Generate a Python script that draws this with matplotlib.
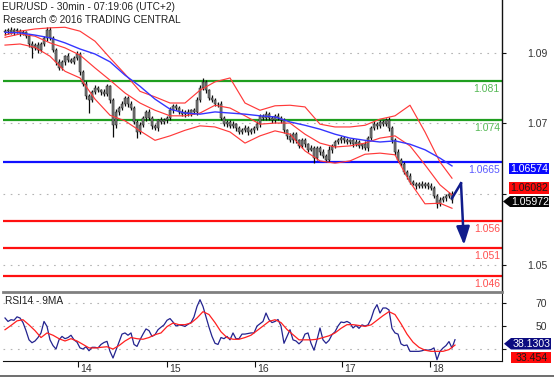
import numpy as np
import matplotlib
matplotlib.use("Agg")
import matplotlib.pyplot as plt
import matplotlib.transforms as mtransforms
from matplotlib.patches import Polygon, FancyArrowPatch

plt.rcParams['font.family'] = ['Liberation Sans', 'DejaVu Sans']

W, H = 554, 377

# ---------------- data ----------------
first_open = 1.0898
close = [
    1.0900, 1.0902, 1.0898, 1.0902, 1.0900, 1.0897, 1.0898, 1.0891, 1.0877, 1.0870,
    1.0875, 1.0866, 1.0877, 1.0888, 1.0902, 1.0888, 1.0866, 1.0845, 1.0834, 1.0845,
    1.0855, 1.0848, 1.0845, 1.0852, 1.0859, 1.0827, 1.0805, 1.0783, 1.0776, 1.0791,
    1.0798, 1.0794, 1.0791, 1.0787, 1.0801, 1.0776, 1.0731, 1.0755, 1.0762, 1.0769,
    1.0780, 1.0769, 1.0762, 1.0737, 1.0719, 1.0731, 1.0744, 1.0755, 1.0744, 1.0730,
    1.0726, 1.0740, 1.0737, 1.0740, 1.0744, 1.0758, 1.0766, 1.0762, 1.0755, 1.0751,
    1.0755, 1.0751, 1.0758, 1.0755, 1.0776, 1.0798, 1.0809, 1.0794, 1.0780, 1.0776,
    1.0769, 1.0769, 1.0744, 1.0733, 1.0737, 1.0730, 1.0733, 1.0726, 1.0719, 1.0722,
    1.0726, 1.0719, 1.0722, 1.0726, 1.0733, 1.0748, 1.0744, 1.0751, 1.0744, 1.0740,
    1.0748, 1.0744, 1.0740, 1.0722, 1.0712, 1.0704, 1.0715, 1.0704, 1.0694, 1.0704,
    1.0697, 1.0687, 1.0690, 1.0672, 1.0690, 1.0683, 1.0676, 1.0669, 1.0687, 1.0694,
    1.0701, 1.0704, 1.0708, 1.0704, 1.0701, 1.0704, 1.0697, 1.0701, 1.0694, 1.0697,
    1.0690, 1.0708, 1.0726, 1.0733, 1.0730, 1.0737, 1.0733, 1.0740, 1.0726, 1.0704,
    1.0683, 1.0669, 1.0661, 1.0647, 1.0640, 1.0629, 1.0626, 1.0622, 1.0626, 1.0622,
    1.0626, 1.0622, 1.0618, 1.0604, 1.0590, 1.0597, 1.0600, 1.0604, 1.0608, 1.0597,
]
upper_wick_pips = [
    4, 3, 5, 3, 4, 4, 5, 3, 4, 5,
    4, 5, 4, 3, 5, 6, 4, 3, 5, 4,
    3, 5, 4, 4, 6, 3, 4, 5, 4, 3,
    5, 4, 3, 5, 4, 3, 4, 6, 4, 5,
    3, 4, 5, 3, 4, 6, 4, 3, 5, 4,
    4, 3, 5, 4, 3, 5, 4, 4, 3, 5,
    4, 5, 3, 4, 6, 5, 7, 4, 3, 5,
    4, 3, 5, 4, 3, 4, 5, 3, 4, 4,
    5, 3, 4, 4, 5, 3, 4, 5, 4, 3,
    4, 5, 3, 4, 3, 5, 4, 4, 3, 5,
    4, 3, 5, 4, 3, 4, 5, 3, 6, 4,
    3, 5, 4, 4, 5, 3, 4, 5, 4, 3,
    5, 4, 3, 5, 4, 3, 4, 4, 5, 3,
    4, 5, 3, 4, 3, 5, 4, 3, 4, 5,
    3, 4, 5, 4, 3, 5, 4, 3, 4, 5,
]
lower_wick_pips = [
    4, 5, 3, 4, 4, 5, 3, 4, 5, 18,
    4, 5, 4, 3, 5, 4, 4, 5, 3, 4,
    5, 4, 3, 4, 4, 5, 4, 5, 23, 4,
    4, 3, 5, 4, 3, 5, 21, 4, 5, 3,
    4, 5, 3, 4, 11, 4, 3, 5, 4, 5,
    4, 5, 3, 4, 4, 3, 5, 4, 3, 4,
    5, 4, 3, 4, 5, 3, 4, 5, 4, 3,
    4, 5, 4, 3, 5, 4, 3, 5, 4, 4,
    3, 5, 4, 4, 3, 5, 4, 3, 4, 5,
    4, 3, 5, 4, 5, 3, 4, 5, 4, 3,
    5, 4, 3, 9, 4, 5, 3, 4, 4, 5,
    4, 3, 4, 5, 3, 4, 5, 4, 3, 5,
    4, 5, 3, 4, 5, 3, 4, 4, 5, 4,
    5, 4, 3, 4, 5, 4, 3, 5, 4, 3,
    4, 5, 3, 4, 8, 4, 3, 5, 4, 5,
]

# Bollinger bands and moving average, read every 5 bars
band_idx = list(range(0, 150, 5)) + [149]
bb_upper = [1.0893, 1.0900, 1.0904, 1.0906, 1.0907, 1.0900, 1.0882, 1.0852, 1.0823, 1.0792,
            1.0782, 1.0771, 1.0771, 1.0794, 1.0809, 1.0816, 1.0771, 1.0758, 1.0766, 1.0767,
            1.0764, 1.0733, 1.0728, 1.0728, 1.0731, 1.0742, 1.0748, 1.0767, 1.0719, 1.0665,
            1.0636]
bb_mid = [1.0889, 1.0895, 1.0891, 1.0879, 1.0870, 1.0857, 1.0834, 1.0812, 1.0789, 1.0771,
          1.0758, 1.0748, 1.0748, 1.0753, 1.0767, 1.0762, 1.0748, 1.0733, 1.0735, 1.0735,
          1.0715, 1.0699, 1.0692, 1.0694, 1.0699, 1.0708, 1.0712, 1.0694, 1.0660, 1.0624,
          1.0606]
bb_lower = [1.0875, 1.0877, 1.0871, 1.0855, 1.0828, 1.0816, 1.0778, 1.0749, 1.0739, 1.0721,
            1.0704, 1.0712, 1.0722, 1.0730, 1.0728, 1.0719, 1.0699, 1.0712, 1.0721, 1.0715,
            1.0685, 1.0667, 1.0663, 1.0667, 1.0679, 1.0681, 1.0678, 1.0629, 1.0590, 1.0591,
            1.0582]
ma_blue = [1.0898, 1.0897, 1.0893, 1.0888, 1.0879, 1.0868, 1.0859, 1.0845, 1.0821, 1.0801,
           1.0778, 1.0760, 1.0753, 1.0751, 1.0755, 1.0753, 1.0751, 1.0748, 1.0746, 1.0737,
           1.0731, 1.0724, 1.0715, 1.0708, 1.0704, 1.0701, 1.0703, 1.0697, 1.0687, 1.0672,
           1.0658]

levels_green = [1.081, 1.074]
level_blue = 1.0665
levels_red = [1.056, 1.051, 1.046]
level_labels = {1.081: "1.081", 1.074: "1.074", 1.0665: "1.0665",
                1.056: "1.056", 1.051: "1.051", 1.046: "1.046"}

forecast_idx = [149, 152, 153]
forecast_px = [1.0600, 1.0627, 1.0516]

rsi = [57, 54, 55.5, 55, 58, 57, 53, 46, 38, 35.5,
       37, 40, 44, 54, 49.7, 38, 33, 30, 38, 41,
       39, 40, 42, 38, 36, 31, 30, 32, 28.5, 31.5,
       31.5, 30.9, 34, 35.7, 36.7, 28, 22.2, 29, 36, 43,
       44, 42, 44, 34, 32.3, 38, 43, 47.5, 46, 41,
       42.5, 46.8, 49, 51, 55, 56.5, 53.5, 50, 51, 50.5,
       49.7, 51.5, 53, 58, 67, 72.9, 67, 58, 49, 41,
       35, 34, 40, 39, 41, 38, 44, 39, 39, 43,
       43, 43.5, 44, 44, 50, 52, 54, 61.3, 55.5, 53,
       54, 55.7, 50, 35, 41, 46.8, 38, 37, 34.5, 37,
       43, 44, 35, 29, 38, 48.3, 38, 35, 37.5, 42.5,
       45, 50, 53.5, 53, 54, 52.6, 48.3, 50.5, 48, 51,
       50, 51, 56, 64, 68.6, 61.3, 65.7, 65.7, 64, 48,
       44, 43, 34.5, 33, 33.5, 28, 28, 28, 28, 28.5,
       29.4, 29, 29.5, 31, 20.7, 28, 30.9, 33, 36.5, 30.9,
       38.1303]
rsi_ma_idx = list(range(0, 151, 2))
rsi_ma = [46.8, 50.5, 54.5, 55.5, 51, 46, 40, 44, 42, 39,
          37, 39, 37, 34, 31, 30.9, 31.5, 32, 30, 33,
          37, 40, 39, 38.5, 40, 42.5, 44, 49.5, 52.6, 51.2,
          51.2, 52.6, 57, 62.5, 60, 53, 45, 40, 38.5, 38.5,
          40, 42, 46, 50, 54, 55.5, 53, 47, 42.5, 38,
          38, 38, 38.5, 40, 41.5, 44, 48, 51.2, 51.2, 50.5,
          49.7, 51, 55, 59, 62.5, 60, 52, 43, 36, 31.5,
          29, 28, 28, 28, 29.5, 33.454]

day_labels = ["14", "15", "16", "17", "18"]
day_pos = [24.3, 54.0, 83.3, 112.3, 141.7]

price_ticks = [1.0861, 1.0735, 1.0608, 1.0480]
price_tick_labels = ["1.09", "1.07", "", "1.05"]
rsi_ticks = [70, 50, 30]
rsi_tick_labels = ["70", "50", ""]

tag_ma, tag_bb, tag_last = "1.06574", "1.06082", "1.05972"
tag_rsi, tag_rsi_ma = "38.1303", "33.454"

# ---------------- figure ----------------
fig = plt.figure(figsize=(W / 100, H / 100), dpi=100)


def px_rect(l, t, r, b):
    return [l / W, 1 - b / H, (r - l) / W, (b - t) / H]


ax = fig.add_axes(px_rect(3, 0, 502, 291))
axr = fig.add_axes(px_rect(3, 292, 502, 361))

xlim = (-0.67, 165.67)
grid_kw = dict(color="#b4b4b4", linestyle=(0, (1.5, 5)), linewidth=0.8)

# ----- main price panel -----
n = len(close)
xs = np.arange(n)
opens = np.array([first_open] + close[:-1])
closes = np.array(close)
highs = np.maximum(opens, closes) + np.array(upper_wick_pips) * 0.0001
lows = np.minimum(opens, closes) - np.array(lower_wick_pips) * 0.0001

for y in price_ticks:
    ax.axhline(y, zorder=0, **grid_kw)

ax.vlines(xs, lows, highs, color="#0a0a0a", linewidth=0.9, zorder=3)
ax.bar(xs, closes - opens, bottom=opens, width=0.85, color="#7c7c7c",
       edgecolor="#1a1a1a", linewidth=0.35, zorder=4)

for lv in levels_green:
    ax.axhline(lv, color="#1f9e1f", linewidth=1.6, zorder=2)
ax.axhline(level_blue, color="#1010ff", linewidth=1.6, zorder=2)
for lv in levels_red:
    ax.axhline(lv, color="#ff1010", linewidth=1.6, zorder=2)

ax.plot(band_idx, bb_upper, color="#ff3a3a", linewidth=0.85, zorder=5)
ax.plot(band_idx, bb_mid, color="#ff3a3a", linewidth=0.85, zorder=5)
ax.plot(band_idx, bb_lower, color="#ff3a3a", linewidth=0.85, zorder=5)
ax.plot(band_idx, ma_blue, color="#3535ff", linewidth=1.0, zorder=5)

label_colors = {1.081: "#55b855", 1.074: "#55b855", 1.0665: "#5a5aff",
                1.056: "#ff4f4f", 1.051: "#ff4f4f", 1.046: "#ff4f4f"}
for lv, txt in level_labels.items():
    ax.annotate(txt, xy=(1, lv), xycoords=("axes fraction", "data"),
                xytext=(-1.5, -2.2), textcoords="offset points",
                ha="right", va="top", fontsize=7.5, color=label_colors[lv])

navy = "#101c8c"
ax.plot(forecast_idx[:2], forecast_px[:2], color=navy, linewidth=1.8, zorder=6)
ax.add_patch(FancyArrowPatch((forecast_idx[1], forecast_px[1]),
                             (forecast_idx[2], forecast_px[2]),
                             arrowstyle="-|>,head_length=1.1,head_width=0.4",
                             mutation_scale=10, color=navy, linewidth=1.8,
                             shrinkA=0, shrinkB=0, zorder=6))

ax.set_xlim(*xlim)
ax.set_ylim(1.04334, 1.0956)
for s in ("left", "top", "bottom"):
    ax.spines[s].set_visible(False)
ax.spines["right"].set_color("#111111")
ax.spines["right"].set_linewidth(1.0)
ax.yaxis.tick_right()
ax.set_yticks(price_ticks)
ax.set_yticklabels(price_tick_labels)
ax.tick_params(axis="y", direction="out", length=3, width=0.8, pad=29.5,
               labelsize=7.5, labelcolor="#333333", color="#111111")
for lbl in ax.get_yticklabels():
    lbl.set_horizontalalignment("right")
ax.tick_params(axis="x", bottom=False, labelbottom=False)

# ----- RSI panel -----
for y in rsi_ticks:
    axr.axhline(y, zorder=0, **grid_kw)
axr.plot(np.arange(len(rsi)), rsi, color="#23238f", linewidth=0.9, zorder=3)
axr.plot(rsi_ma_idx, rsi_ma, color="#ff2020", linewidth=0.9, zorder=4)
axr.set_xlim(*xlim)
axr.set_ylim(19.6, 79.6)
axr.spines["left"].set_visible(False)
axr.spines["top"].set_color("#808080")
axr.spines["top"].set_linewidth(2.0)
axr.spines["bottom"].set_color("#111111")
axr.spines["right"].set_color("#111111")
axr.yaxis.tick_right()
axr.set_yticks(rsi_ticks)
axr.set_yticklabels(rsi_tick_labels)
axr.tick_params(axis="y", direction="out", length=3, width=0.8, pad=29.5,
                labelsize=7.5, labelcolor="#333333", color="#111111")
for lbl in axr.get_yticklabels():
    lbl.set_horizontalalignment("right")
axr.set_xticks(day_pos)
axr.set_xticklabels(day_labels)
axr.tick_params(axis="x", direction="out", length=4, width=0.8, pad=-1.5,
                labelsize=7.5, labelcolor="#333333", color="#111111")
off = mtransforms.ScaledTranslation(2.5 / 100, 0, fig.dpi_scale_trans)
for lbl in axr.get_xticklabels():
    lbl.set_horizontalalignment("left")
    lbl.set_transform(lbl.get_transform() + off)

# ----- texts -----
fig.text(2 / W, 1 - 7.5 / H, "EUR/USD - 30min - 07:19:06 (UTC+2)", fontsize=7.25,
         color="#222222", va="center", ha="left")
fig.text(3 / W, 1 - 20 / H, "Research \u00a9 2016 TRADING CENTRAL", fontsize=7.25,
         color="#222222", va="center", ha="left")
fig.text(5 / W, 1 - 300.5 / H, "RSI14 - 9MA", fontsize=7.3,
         color="#222222", va="center", ha="left")


def tag(text, left, right, top, bottom, fc, tc, tip=None):
    if tip is None:
        pts = [(left, top), (right, top), (right, bottom), (left, bottom)]
    else:
        cy = (top + bottom) / 2
        pts = [(tip, cy), (left, top), (right, top), (right, bottom), (left, bottom)]
    pts = [(x / W, 1 - y / H) for x, y in pts]
    fig.patches.append(Polygon(pts, closed=True, transform=fig.transFigure,
                               facecolor=fc, edgecolor="none", figure=fig))
    fig.text((left + right) / 2 / W + 0.001, 1 - ((top + bottom) / 2 + 0.3) / H, text,
             fontsize=7.6, color=tc, ha="center", va="center")


tag(tag_ma, 509, 549, 163, 173.5, "#0a0aff", "white")
tag(tag_bb, 509, 549, 182.5, 193.5, "#ff0a0a", "#1a1a1a")
tag(tag_last, 510, 549, 196, 207, "#050505", "white", tip=503)
tag(tag_rsi, 511, 551, 338, 349.5, "#0c0c80", "white", tip=504)
tag(tag_rsi_ma, 511, 551, 351.5, 363, "#ff0a0a", "#1a1a1a")

# bottom frame line
fig.add_artist(plt.Line2D([0, 1], [0.8 / H, 0.8 / H], transform=fig.transFigure,
                          color="#555555", linewidth=1.2))

fig.savefig("out.png", dpi=100)
